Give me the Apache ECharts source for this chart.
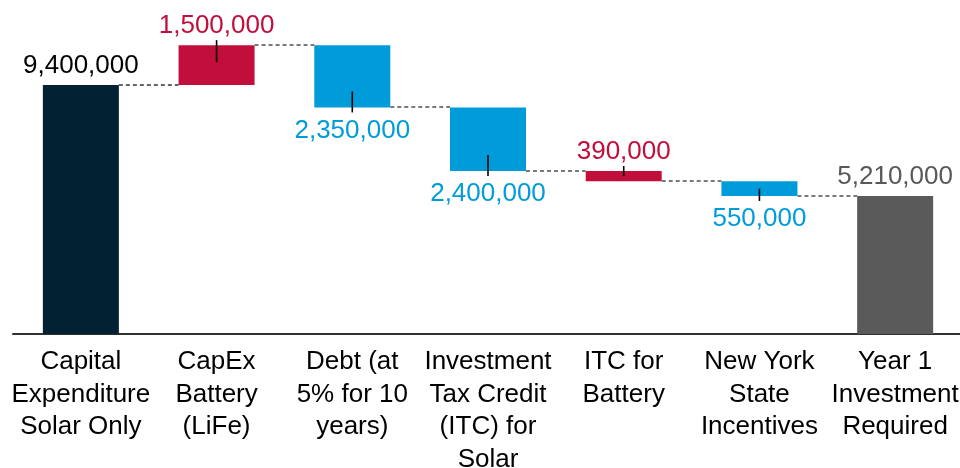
<!DOCTYPE html>
<html>
<head>
<meta charset="utf-8">
<script src="https://cdn.jsdelivr.net/npm/echarts@6/dist/echarts.min.js"></script>
<style>html,body{margin:0;padding:0;background:#fff;}#c{width:960px;height:468px;}</style>
</head>
<body>
<div id="c"></div>
<script>
var categories = [
  'Capital\nExpenditure\nSolar Only',
  'CapEx\nBattery\n(LiFe)',
  'Debt (at\n5% for 10\nyears)',
  'Investment\nTax Credit\n(ITC) for\nSolar',
  'ITC for\nBattery',
  'New York\nState\nIncentives',
  'Year 1\nInvestment\nRequired'
];
var deltas = [9400000, 1500000, -2350000, -2400000, -390000, -550000, 5210000];
var kinds = ['start', 'increase', 'decrease', 'decrease', 'increase', 'decrease', 'total'];
var labelTexts = ['9,400,000', '1,500,000', '2,350,000', '2,400,000', '390,000', '550,000', '5,210,000'];

var palette = { start: '#022233', increase: '#C20E3B', decrease: '#009CDA', total: '#5A5A5A' };
var labelColors = { start: '#000000', increase: '#C20E3B', decrease: '#009CDA', total: '#595959' };

// running totals
var starts = [], ends = [];
var run = 0;
for (var i = 0; i < deltas.length; i++) {
  if (kinds[i] === 'start' || kinds[i] === 'total') {
    starts.push(0); ends.push(deltas[i]); run = deltas[i];
  } else {
    starts.push(run); run = run + deltas[i]; ends.push(run);
  }
}
var baseData = starts.map(function (s, i) { return Math.min(s, ends[i]); });
var barData = starts.map(function (s, i) {
  return { value: Math.abs(ends[i] - s), itemStyle: { color: palette[kinds[i]] } };
});

var BAR_W = 76;
var FONT = 'Liberation Sans, Arial, sans-serif';
var chart = echarts.init(document.getElementById('c'), null, { renderer: 'canvas' });
chart.setOption({
  animation: false,
  backgroundColor: '#fff',
  grid: { left: 13, width: 950, top: 16, bottom: 134, containLabel: false, outerBoundsMode: 'none' },
  xAxis: {
    type: 'category',
    data: categories,
    axisTick: { show: false },
    axisLine: { lineStyle: { color: '#303030', width: 2 } },
    axisLabel: {
      interval: 0, color: '#000', fontSize: 26, lineHeight: 32.5,
      fontFamily: FONT, margin: 12, hideOverlap: false
    }
  },
  yAxis: { type: 'value', min: 0, max: 12000000, show: false, splitLine: { show: false } },
  series: [
    { type: 'bar', stack: 'w', data: baseData, barWidth: BAR_W, itemStyle: { color: 'transparent' }, silent: true },
    { type: 'bar', stack: 'w', data: barData, barWidth: BAR_W },
    {
      type: 'custom',
      data: categories.map(function (c, i) { return i; }),
      renderItem: function (params, api) {
        var i = params.dataIndex;
        var top = Math.max(starts[i], ends[i]);
        var bot = Math.min(starts[i], ends[i]);
        var x = api.coord([i, 0])[0];
        var yTop = api.coord([i, top])[1];
        var yBot = api.coord([i, bot])[1];
        var mid = (yTop + yBot) / 2;
        var children = [];
        var above = kinds[i] !== 'decrease';
        var ty = above ? yTop - 19.5 : yBot + 23;
        children.push({
          type: 'text',
          style: {
            text: labelTexts[i], x: x, y: ty, fill: labelColors[kinds[i]],
            fontSize: 26, fontFamily: FONT,
            align: 'center', verticalAlign: 'middle'
          }
        });
        if (kinds[i] === 'increase' || kinds[i] === 'decrease') {
          var y1, y2;
          if (above) { y1 = yTop - 5; y2 = Math.min(yTop + 17, mid); }
          else { y1 = Math.max(yBot - 16, mid); y2 = yBot + 5; }
          children.push({
            type: 'line',
            shape: { x1: x, y1: y1, x2: x, y2: y2 },
            style: { stroke: '#000', lineWidth: 1.6 }
          });
        }
        if (i < categories.length - 1) {
          var yl = Math.round(api.coord([i, ends[i]])[1]);
          var xn = api.coord([i + 1, 0])[0];
          children.push({
            type: 'line',
            shape: { x1: x + BAR_W / 2, y1: yl, x2: xn - BAR_W / 2, y2: yl },
            style: { stroke: i === 0 ? '#333333' : '#7a7a7a', lineWidth: i === 0 ? 1.3 : 2, lineDash: [4, 3] }
          });
        }
        return { type: 'group', children: children };
      },
      z: 5
    }
  ]
});
</script>
</body>
</html>
